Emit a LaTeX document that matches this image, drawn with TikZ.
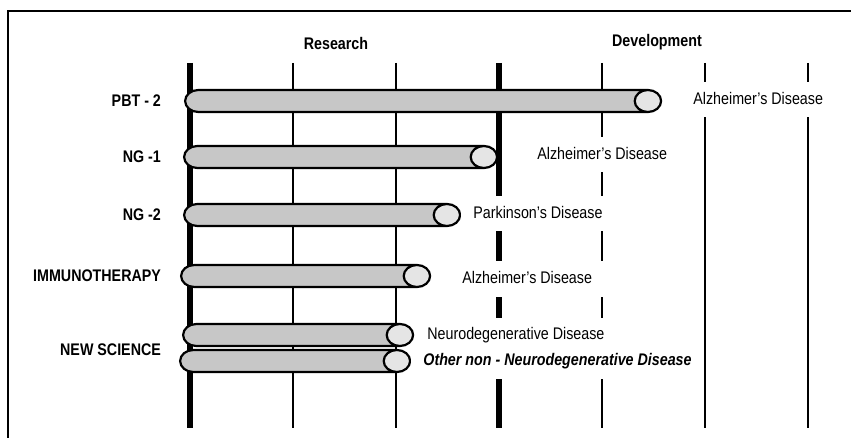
\documentclass[tikz,border=0pt]{standalone}
\usepackage{fontspec}
\setmainfont{Liberation Sans}[FakeStretch=0.85]
\usetikzlibrary{shapes.geometric}

\begin{document}
\begin{tikzpicture}[
  x=0.5pt, y=-0.5pt,
  font=\fontsize{8.4pt}{10pt}\selectfont,
  bar/.style={cylinder,draw,line width=1.1pt,aspect=3.3,inner sep=2pt,
              minimum width=11pt,anchor=west,cylinder uses custom fill,
              cylinder body fill=black!22,cylinder end fill=black!10},
  drug/.style={anchor=east,font=\fontsize{8.4pt}{10pt}\selectfont\bfseries},
  dis/.style={anchor=west,fill=white,inner xsep=6pt,inner ysep=5pt,
              text height=6pt,text depth=1.5pt},
  phase/.style={font=\fontsize{8.4pt}{10pt}\selectfont\bfseries},
  major/.style={line width=3pt},
  minor/.style={line width=0.9pt}]
\useasboundingbox (0,0) rectangle (851,438);

% ---- frame and phase grid ---------------------------------------------
\draw[line width=0.6pt] (851,11) -- (8,11) -- (8,438);
\draw[major] (190,63) -- (190,428);
\draw[minor] (293,63) -- (293,428);
\draw[minor] (396,63) -- (396,428);
\draw[major] (499,63) -- (499,428);
\draw[minor] (602,63) -- (602,428);
\draw[minor] (705,63) -- (705,428);
\draw[minor] (808,63) -- (808,428);

% ---- phase headers ----------------------------------------------------
\node[phase] (res) at (336,43) {Research};
\node[phase] (dev) at (657,42) {Development};

% ---- bars -------------------------------------------------------------
\node[bar,minimum height=238pt]   (pbt)    at (184,101) {};
\node[bar,minimum height=156.5pt] (ngone)  at (183,157) {};
\node[bar,minimum height=138pt]   (ngtwo)  at (183,215) {};
\node[bar,minimum height=124.5pt] (immuno) at (180,276) {};
\node[bar,minimum height=115pt]   (nsa)    at (182,335) {};
\node[bar,minimum height=115pt]   (nsb)    at (179,361) {};

% ---- programme labels -------------------------------------------------
\node[drug] (lpbt)    at (168,101) {PBT - 2};
\node[drug] (lngone)  at (168,157) {NG -1};
\node[drug] (lngtwo)  at (168,215) {NG -2};
\node[drug] (limmuno) at (168,276) {IMMUNOTHERAPY};
\node[drug] (lns)     at (168,350) {NEW SCIENCE};

% ---- disease labels ---------------------------------------------------
\node[dis] (dpbt)    at (681,100) {Alzheimer's Disease};
\node[dis] (dngone)  at (525,155) {Alzheimer's Disease};
\node[dis] (dngtwo)  at (461,214) {Parkinson's Disease};
\node[dis] (dimmuno) at (450,279) {Alzheimer's Disease};
\node[dis] (dnsa)    at (415,335) {Neurodegenerative Disease};
\node[dis,font=\fontsize{8.4pt}{10pt}\selectfont\bfseries\itshape] (dnsb) at (411,361)
  {Other non - Neurodegenerative Disease};
\end{tikzpicture}
\end{document}
